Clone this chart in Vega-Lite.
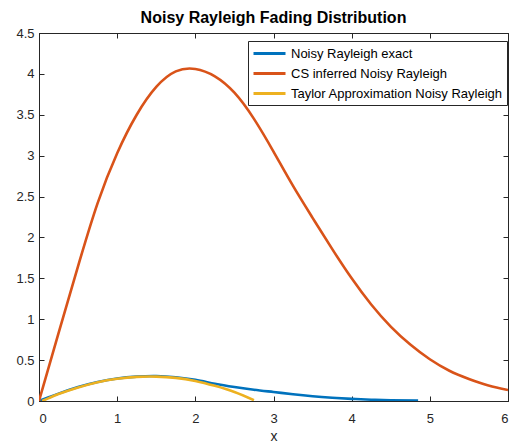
{
  "$schema": "https://vega.github.io/schema/vega-lite/v6.json",
  "width": 469,
  "height": 368,
  "autosize": {"type": "none"},
  "padding": {"left": 39, "top": 33, "right": 4, "bottom": 43},
  "background": "white",
  "title": {"text": "Noisy Rayleigh Fading Distribution", "font": "Liberation Sans", "fontSize": 16, "fontWeight": "bold", "color": "black", "offset": 1, "anchor": "middle"},
  "config": {
    "view": {"stroke": "#262626", "strokeWidth": 1},
    "axis": {"grid": false, "domainColor": "#262626", "tickColor": "#262626", "labelColor": "#262626", "titleColor": "#262626", "labelFont": "Liberation Sans", "titleFont": "Liberation Sans", "labelFontSize": 13, "titleFontSize": 14, "titleFontWeight": "normal", "tickSize": -5, "labelPadding": 10}
  },
  "data": {"values": [
    {"x": 0, "y": 0, "s": "Noisy Rayleigh exact"},
    {"x": 0.125, "y": 0.045, "s": "Noisy Rayleigh exact"},
    {"x": 0.25, "y": 0.09, "s": "Noisy Rayleigh exact"},
    {"x": 0.5, "y": 0.17, "s": "Noisy Rayleigh exact"},
    {"x": 0.75, "y": 0.232, "s": "Noisy Rayleigh exact"},
    {"x": 1, "y": 0.275, "s": "Noisy Rayleigh exact"},
    {"x": 1.25, "y": 0.298, "s": "Noisy Rayleigh exact"},
    {"x": 1.5, "y": 0.305, "s": "Noisy Rayleigh exact"},
    {"x": 1.75, "y": 0.29, "s": "Noisy Rayleigh exact"},
    {"x": 2, "y": 0.258, "s": "Noisy Rayleigh exact"},
    {"x": 2.25, "y": 0.212, "s": "Noisy Rayleigh exact"},
    {"x": 2.5, "y": 0.172, "s": "Noisy Rayleigh exact"},
    {"x": 2.75, "y": 0.138, "s": "Noisy Rayleigh exact"},
    {"x": 3, "y": 0.11, "s": "Noisy Rayleigh exact"},
    {"x": 3.25, "y": 0.082, "s": "Noisy Rayleigh exact"},
    {"x": 3.5, "y": 0.058, "s": "Noisy Rayleigh exact"},
    {"x": 3.75, "y": 0.04, "s": "Noisy Rayleigh exact"},
    {"x": 4, "y": 0.026, "s": "Noisy Rayleigh exact"},
    {"x": 4.25, "y": 0.016, "s": "Noisy Rayleigh exact"},
    {"x": 4.5, "y": 0.01, "s": "Noisy Rayleigh exact"},
    {"x": 4.85, "y": 0.005, "s": "Noisy Rayleigh exact"},
    {"x": 0, "y": 0, "s": "CS inferred Noisy Rayleigh"},
    {"x": 0.25, "y": 0.83, "s": "CS inferred Noisy Rayleigh"},
    {"x": 0.5, "y": 1.65, "s": "CS inferred Noisy Rayleigh"},
    {"x": 0.75, "y": 2.42, "s": "CS inferred Noisy Rayleigh"},
    {"x": 1, "y": 3.03, "s": "CS inferred Noisy Rayleigh"},
    {"x": 1.25, "y": 3.5, "s": "CS inferred Noisy Rayleigh"},
    {"x": 1.5, "y": 3.84, "s": "CS inferred Noisy Rayleigh"},
    {"x": 1.75, "y": 4.03, "s": "CS inferred Noisy Rayleigh"},
    {"x": 2, "y": 4.06, "s": "CS inferred Noisy Rayleigh"},
    {"x": 2.25, "y": 3.97, "s": "CS inferred Noisy Rayleigh"},
    {"x": 2.5, "y": 3.77, "s": "CS inferred Noisy Rayleigh"},
    {"x": 2.75, "y": 3.45, "s": "CS inferred Noisy Rayleigh"},
    {"x": 3, "y": 3.05, "s": "CS inferred Noisy Rayleigh"},
    {"x": 3.25, "y": 2.63, "s": "CS inferred Noisy Rayleigh"},
    {"x": 3.5, "y": 2.24, "s": "CS inferred Noisy Rayleigh"},
    {"x": 3.75, "y": 1.86, "s": "CS inferred Noisy Rayleigh"},
    {"x": 4, "y": 1.5, "s": "CS inferred Noisy Rayleigh"},
    {"x": 4.25, "y": 1.18, "s": "CS inferred Noisy Rayleigh"},
    {"x": 4.5, "y": 0.91, "s": "CS inferred Noisy Rayleigh"},
    {"x": 4.75, "y": 0.69, "s": "CS inferred Noisy Rayleigh"},
    {"x": 5, "y": 0.51, "s": "CS inferred Noisy Rayleigh"},
    {"x": 5.25, "y": 0.37, "s": "CS inferred Noisy Rayleigh"},
    {"x": 5.5, "y": 0.27, "s": "CS inferred Noisy Rayleigh"},
    {"x": 5.75, "y": 0.19, "s": "CS inferred Noisy Rayleigh"},
    {"x": 6, "y": 0.135, "s": "CS inferred Noisy Rayleigh"},
    {"x": 0.04, "y": 0, "s": "Taylor Approximation Noisy Rayleigh"},
    {"x": 0.125, "y": 0.035, "s": "Taylor Approximation Noisy Rayleigh"},
    {"x": 0.25, "y": 0.085, "s": "Taylor Approximation Noisy Rayleigh"},
    {"x": 0.5, "y": 0.165, "s": "Taylor Approximation Noisy Rayleigh"},
    {"x": 0.75, "y": 0.23, "s": "Taylor Approximation Noisy Rayleigh"},
    {"x": 1, "y": 0.272, "s": "Taylor Approximation Noisy Rayleigh"},
    {"x": 1.25, "y": 0.295, "s": "Taylor Approximation Noisy Rayleigh"},
    {"x": 1.5, "y": 0.298, "s": "Taylor Approximation Noisy Rayleigh"},
    {"x": 1.75, "y": 0.283, "s": "Taylor Approximation Noisy Rayleigh"},
    {"x": 2, "y": 0.245, "s": "Taylor Approximation Noisy Rayleigh"},
    {"x": 2.25, "y": 0.185, "s": "Taylor Approximation Noisy Rayleigh"},
    {"x": 2.5, "y": 0.11, "s": "Taylor Approximation Noisy Rayleigh"},
    {"x": 2.75, "y": 0.01, "s": "Taylor Approximation Noisy Rayleigh"}
  ]},
  "layer": [
    {
      "mark": {"type": "line", "strokeWidth": 2.6, "interpolate": "natural", "clip": true},
      "encoding": {
        "x": {"field": "x", "type": "quantitative", "scale": {"domain": [0, 6], "nice": false, "zero": false}, "axis": {"values": [0, 1, 2, 3, 4, 5, 6], "title": "x", "titlePadding": 4, "labelPadding": 16}},
        "y": {"field": "y", "type": "quantitative", "scale": {"domain": [0, 4.5], "nice": false}, "axis": {"values": [0, 0.5, 1, 1.5, 2, 2.5, 3, 3.5, 4, 4.5], "format": "~g", "title": null}},
        "color": {"field": "s", "type": "nominal", "sort": null,
          "scale": {"domain": ["Noisy Rayleigh exact", "CS inferred Noisy Rayleigh", "Taylor Approximation Noisy Rayleigh"], "range": ["#0072BD", "#D95319", "#EDB120"]},
          "legend": {"title": null, "orient": "none", "legendX": 209, "legendY": 8, "symbolType": "M-2.2857,0H2.2857", "symbolSize": 196, "symbolOffset": 9, "symbolStrokeWidth": 3, "labelOffset": 13, "labelFont": "Liberation Sans", "labelFontSize": 13, "labelColor": "black", "strokeColor": "#262626", "fillColor": "white", "padding": 4, "rowPadding": 4, "labelLimit": 300}}
      }
    },
    {
      "mark": {"type": "line", "opacity": 0},
      "encoding": {
        "x": {"field": "x", "type": "quantitative", "axis": {"orient": "top", "values": [0, 1, 2, 3, 4, 5, 6], "labels": false, "title": null}},
        "y": {"field": "y", "type": "quantitative", "axis": {"orient": "right", "values": [0, 0.5, 1, 1.5, 2, 2.5, 3, 3.5, 4, 4.5], "labels": false, "title": null}}
      }
    }
  ],
  "resolve": {"axis": {"x": "independent", "y": "independent"}}
}
